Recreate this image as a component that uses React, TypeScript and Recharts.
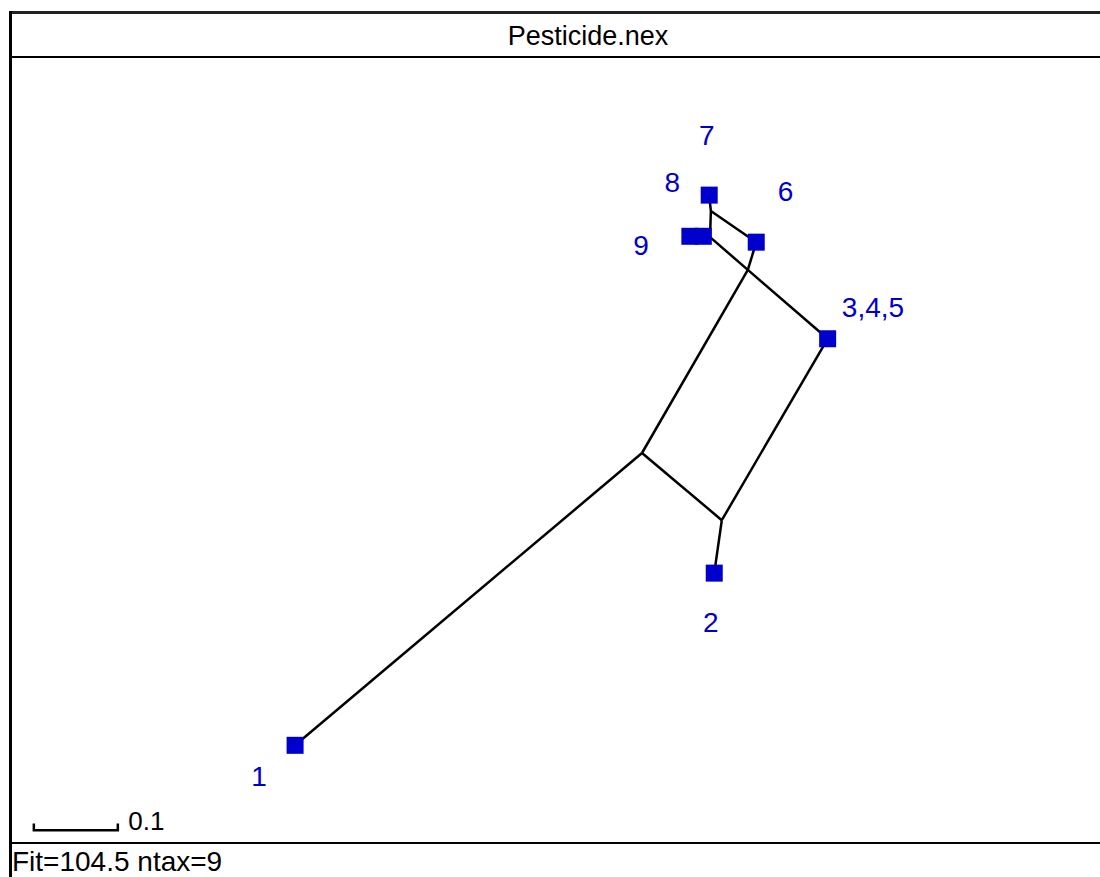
import { ScatterChart, Scatter, XAxis, YAxis } from 'recharts';

// network coordinates (units of the scale bar), origin at the central split node
const nodes: Record<string, { x: number; y: number }> = {
  A: { x: 0, y: 0 },
  B: { x: 0.095, y: -0.08 },
  C: { x: 0.221, y: 0.136 },
  D: { x: 0.126, y: 0.218 },
  E: { x: 0.081, y: 0.257 },
  G: { x: 0.082, y: 0.288 },
  T1: { x: -0.413, y: -0.348 },
  T2: { x: 0.086, y: -0.143 },
  T6: { x: 0.136, y: 0.251 },
  T7: { x: 0.08, y: 0.307 },
  T9a: { x: 0.057, y: 0.258 },
  T9b: { x: 0.073, y: 0.258 },
};

const edges: [string, string][] = [
  ['T1', 'A'],
  ['A', 'B'],
  ['B', 'T2'],
  ['B', 'C'],
  ['A', 'D'],
  ['D', 'C'],
  ['D', 'E'],
  ['D', 'T6'],
  ['E', 'G'],
  ['G', 'T6'],
  ['G', 'T7'],
];

const taxa = ['T1', 'T2', 'C', 'T6', 'T7', 'T9a', 'T9b'];

const taxonLabels = [
  { text: '7', x: 0.077, y: 0.367 },
  { text: '8', x: 0.036, y: 0.311 },
  { text: '6', x: 0.171, y: 0.3 },
  { text: '9', x: -0.001, y: 0.236 },
  { text: '3,4,5', x: 0.275, y: 0.162 },
  { text: '2', x: 0.082, y: -0.213 },
  { text: '1', x: -0.456, y: -0.396 },
];

const scaleBar = { x: -0.724, y: -0.449, length: 0.1, label: '0.1' };

const W = 1100;
const H = 877;
const PX = 840; // pixels per unit
const OX = 642;
const OY = 453;

const FONT = '"Liberation Sans", Arial, sans-serif';
const BLUE = '#0000cc';

const Square = (p: any) => (
  <rect x={p.cx - 8.5} y={p.cy - 8.5} width={17} height={17} fill={BLUE} />
);

const Label = (p: any) => (
  <text x={p.cx} y={p.cy} textAnchor="middle" fontSize={28} fontFamily={FONT} fill={BLUE}>
    {p.payload.text}
  </text>
);

const Nothing = () => <g />;

export default function App() {
  const tick = 0.008;
  const barData = [
    { x: scaleBar.x, y: scaleBar.y + tick },
    { x: scaleBar.x, y: scaleBar.y },
    { x: scaleBar.x + scaleBar.length, y: scaleBar.y },
    { x: scaleBar.x + scaleBar.length, y: scaleBar.y + tick },
  ];
  const barLabel = [{ x: scaleBar.x + scaleBar.length + 0.0125, y: scaleBar.y, text: scaleBar.label }];

  return (
    <div style={{ position: 'absolute', left: 0, top: 0, width: W, height: H, background: '#fff', overflow: 'hidden' }}>
      <div style={{ position: 'absolute', left: 9, top: 11, width: W, height: 2.5, background: '#222' }} />
      <div style={{ position: 'absolute', left: 9, top: 11, width: 2.5, height: H, background: '#000' }} />
      <div style={{ position: 'absolute', left: 9, top: 56, width: W, height: 2, background: '#000' }} />
      <div style={{ position: 'absolute', left: 9, top: 842, width: W, height: 1.5, background: '#000' }} />
      <div
        style={{
          position: 'absolute', left: 0, width: W, top: 20, textAlign: 'center',
          fontFamily: FONT, fontSize: 27, lineHeight: '32px', color: '#000', paddingLeft: 76, boxSizing: 'border-box',
        }}
      >
        Pesticide.nex
      </div>
      <div
        style={{
          position: 'absolute', left: 12, top: 847, fontFamily: FONT, fontSize: 28, lineHeight: '30px', color: '#000',
        }}
      >
        Fit=104.5 ntax=9
      </div>
      <div style={{ position: 'absolute', left: 0, top: 0 }}>
        <ScatterChart width={W} height={H} margin={{ top: 0, right: 0, bottom: 0, left: 0 }}>
          <XAxis type="number" dataKey="x" hide domain={[-OX / PX, (W - OX) / PX]} allowDataOverflow />
          <YAxis type="number" dataKey="y" hide domain={[(OY - H) / PX, OY / PX]} allowDataOverflow />
          {edges.map(([a, b], i) => (
            <Scatter
              key={`e-${i}`}
              data={[nodes[a], nodes[b]]}
              line={{ stroke: '#000', strokeWidth: 2.5 }}
              stroke="#000"
              shape={Nothing}
              isAnimationActive={false}
            />
          ))}
          <Scatter
            data={barData}
            line={{ stroke: '#000', strokeWidth: 2.5 }}
            stroke="#000"
            shape={Nothing}
            isAnimationActive={false}
          />
          <Scatter data={taxa.map((t) => nodes[t])} shape={Square} isAnimationActive={false} />
          <Scatter data={taxonLabels} shape={Label} isAnimationActive={false} />
          <Scatter
            data={barLabel}
            shape={(p: any) => (
              <text x={p.cx} y={p.cy} fontSize={26} fontFamily={FONT} fill="#000">
                {p.payload.text}
              </text>
            )}
            isAnimationActive={false}
          />
        </ScatterChart>
      </div>
    </div>
  );
}
